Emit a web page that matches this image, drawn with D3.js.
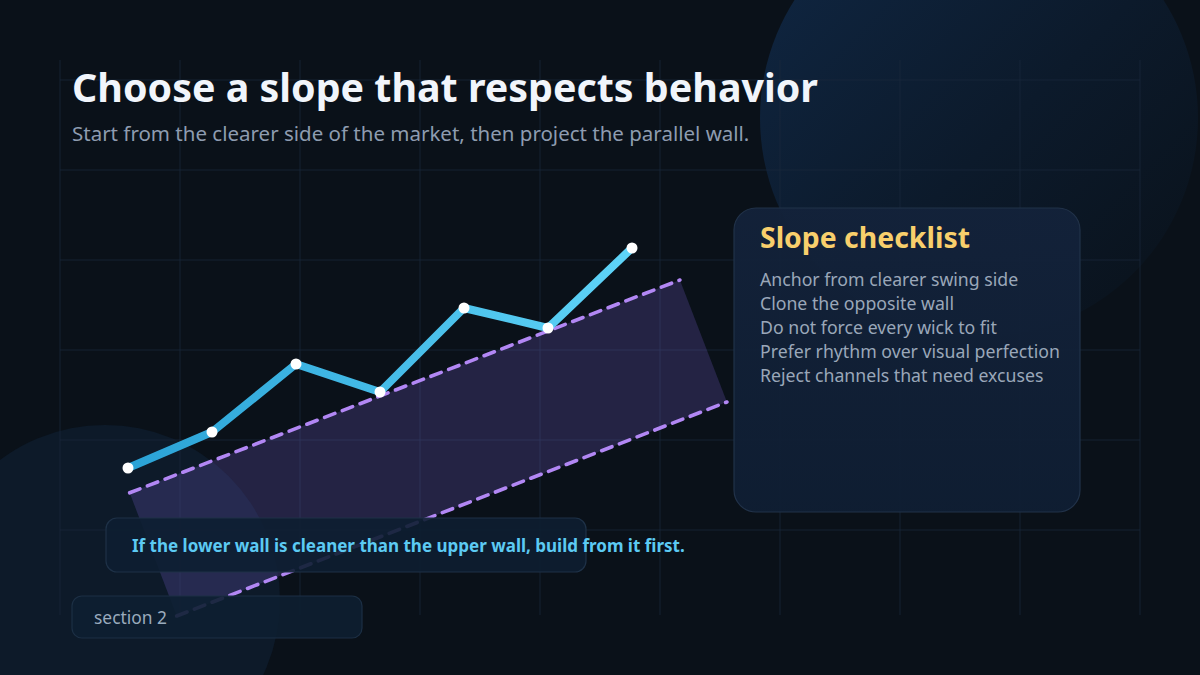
<!DOCTYPE html>
<html><head><meta charset="utf-8">
<script src="https://cdn.jsdelivr.net/npm/d3@7"></script>
<style>html,body{margin:0;padding:0;background:#0a1119;}svg{display:block;}</style>
</head><body>
<svg id="c" width="1200" height="675"></svg>
<script>
// ---- data ----
const steps = [0, 1, 2, 3, 4, 5, 6];
const prices = [38, 47, 64, 57, 78, 73, 93];
const upperWall = [[0.02, 31.8], [6.57, 85]];
const lowerWall = [[0.58, 1], [7.13, 54.5]];
const gridX = [0, 1, 2, 3, 4, 5, 6, 7, 8, 9];
const gridY = [0, 1, 2, 3, 4, 5];
const titleText = "Choose a slope that respects behavior";
const subtitleText = "Start from the clearer side of the market, then project the parallel wall.";
const checklistTitle = "Slope checklist";
const checklistItems = [
  "Anchor from clearer swing side",
  "Clone the opposite wall",
  "Do not force every wick to fit",
  "Prefer rhythm over visual perfection",
  "Reject channels that need excuses"
];
const calloutText = "If the lower wall is cleaner than the upper wall, build from it first.";
const sectionText = "section 2";

const FONT = "'Noto Sans', 'Open Sans', sans-serif";
const svg = d3.select("#c");
const defs = svg.append("defs");

// gradients
const lg = defs.append("linearGradient").attr("id", "lineGrad").attr("x1", "0%").attr("x2", "100%").attr("y1", "0%").attr("y2", "0%");
lg.append("stop").attr("offset", "0%").attr("stop-color", "#2aa2d6");
lg.append("stop").attr("offset", "100%").attr("stop-color", "#5fd4f8");
const cg = defs.append("linearGradient").attr("id", "circGrad").attr("x1", "10%").attr("y1", "10%").attr("x2", "90%").attr("y2", "90%");
cg.append("stop").attr("offset", "0%").attr("stop-color", "#0f2540");
cg.append("stop").attr("offset", "55%").attr("stop-color", "#0c1a2b");
cg.append("stop").attr("offset", "100%").attr("stop-color", "#0a131d");
const pg = defs.append("linearGradient").attr("id", "panelGrad").attr("x1", "0%").attr("y1", "0%").attr("x2", "0%").attr("y2", "100%");
pg.append("stop").attr("offset", "0%").attr("stop-color", "#13223a");
pg.append("stop").attr("offset", "100%").attr("stop-color", "#0f1e33");

// background
svg.append("rect").attr("width", 1200).attr("height", 675).attr("fill", "#0a1119");
svg.append("circle").attr("cx", 979).attr("cy", 118).attr("r", 219).attr("fill", "url(#circGrad)");
svg.append("circle").attr("cx", 105).attr("cy", 600).attr("r", 175).attr("fill", "#0d1a29");

// grid
const gx = d3.scaleLinear().domain([0, 9]).range([60, 1140]);
const gy = d3.scaleLinear().domain([0, 5]).range([80, 530]);
const grid = svg.append("g").attr("stroke", "#1a2a3c").attr("stroke-opacity", 0.7).attr("stroke-width", 1);
grid.selectAll("line.v").data(gridX).join("line").attr("class", "v")
  .attr("x1", d => gx(d)).attr("x2", d => gx(d)).attr("y1", 60).attr("y2", 615);
grid.selectAll("line.h").data(gridY).join("line").attr("class", "h")
  .attr("x1", 60).attr("x2", 1140).attr("y1", d => gy(d)).attr("y2", d => gy(d));

// scales for chart
const x = d3.scaleLinear().domain([0, 6]).range([128, 632]);
const y = d3.scaleLinear().domain([0, 100]).range([620, 220]);

// channel
const poly = [upperWall[0], upperWall[1], lowerWall[1], lowerWall[0]];
svg.append("path")
  .attr("d", d3.line().x(d => x(d[0])).y(d => y(d[1]))(poly) + "Z")
  .attr("fill", "#8b6cf0").attr("fill-opacity", 0.2);
const wallLine = d3.line().x(d => x(d[0])).y(d => y(d[1]));
[upperWall, lowerWall].forEach(w => {
  svg.append("path").attr("d", wallLine(w)).attr("fill", "none")
    .attr("stroke", "#b287f4").attr("stroke-width", 3.6).attr("stroke-dasharray", "11 8")
    .attr("stroke-linecap", "round");
});

// price line
const pts = steps.map((s, i) => [s, prices[i]]);
svg.append("path").attr("d", d3.line().x(d => x(d[0])).y(d => y(d[1]))(pts))
  .attr("fill", "none").attr("stroke", "url(#lineGrad)").attr("stroke-width", 8)
  .attr("stroke-linejoin", "round").attr("stroke-linecap", "round");
svg.selectAll("circle.pt").data(pts).join("circle").attr("class", "pt")
  .attr("cx", d => x(d[0])).attr("cy", d => y(d[1])).attr("r", 5.5).attr("fill", "#ffffff");

// title
svg.append("text").attr("x", 72).attr("y", 102).text(titleText)
  .attr("font-family", FONT).attr("font-weight", 700).attr("font-size", 39.4).attr("fill", "#f1f5fb");
svg.append("text").attr("x", 72).attr("y", 141).text(subtitleText)
  .attr("font-family", FONT).attr("font-size", 20.5).attr("fill", "#8e9cb0");

// checklist panel
svg.append("rect").attr("x", 734).attr("y", 208).attr("width", 346).attr("height", 304).attr("rx", 22)
  .attr("fill", "url(#panelGrad)").attr("fill-opacity", 0.95).attr("stroke", "#213249").attr("stroke-width", 1.2);
svg.append("text").attr("x", 760).attr("y", 248).text(checklistTitle)
  .attr("font-family", FONT).attr("font-weight", 700).attr("font-size", 28.4).attr("fill", "#f8cf6c");
svg.selectAll("text.item").data(checklistItems).join("text").attr("class", "item")
  .attr("x", 760).attr("y", (d, i) => 286 + i * 24).text(d => d)
  .attr("font-family", FONT).attr("font-size", 17.7).attr("fill", "#9aa7b9");

// callout
svg.append("rect").attr("x", 106).attr("y", 518).attr("width", 480).attr("height", 54).attr("rx", 11)
  .attr("fill", "#0d1e31").attr("fill-opacity", 0.9).attr("stroke", "#1e3147").attr("stroke-width", 1.2);
svg.append("text").attr("x", 132).attr("y", 552).text(calloutText)
  .attr("font-family", FONT).attr("font-weight", 700).attr("font-size", 17).attr("fill", "#5ccaf3");

// section tag
svg.append("rect").attr("x", 72).attr("y", 596).attr("width", 290).attr("height", 42).attr("rx", 10)
  .attr("fill", "#0d1f31").attr("fill-opacity", 0.9).attr("stroke", "#1c2f44").attr("stroke-width", 1.2);
svg.append("text").attr("x", 94).attr("y", 624).text(sectionText)
  .attr("font-family", FONT).attr("font-size", 17.4).attr("fill", "#9aabbd");
</script>
</body></html>
